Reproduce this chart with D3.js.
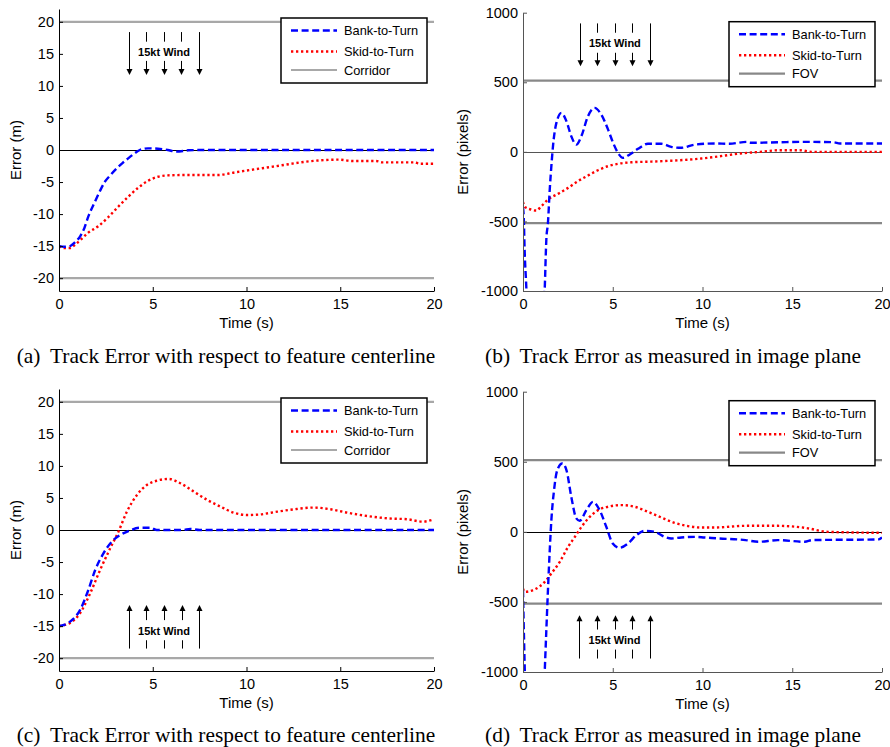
<!DOCTYPE html>
<html><head><meta charset="utf-8">
<script src="https://cdn.jsdelivr.net/npm/d3@7"></script>
<style>
html,body{margin:0;padding:0;background:#fff;}
</style>
</head><body>
<svg id="fig" width="890" height="747" font-family="'Liberation Sans',Arial,sans-serif"></svg>
<script>
// ---------------- data ----------------
const timeTicks = [0, 5, 10, 15, 20];
const meterTicks = [-20, -15, -10, -5, 0, 5, 10, 15, 20];
const pixelTicks = [-1000, -500, 0, 500, 1000];
const seriesNames = ["Bank-to-Turn", "Skid-to-Turn"];
const corridorLimit = 20;
const fovLimit = 512;
const windLabel = "15kt Wind";

const bttA = [[0,-15],[0.3,-15.1],[0.59,-15],[0.85,-14.4],[1.12,-13.5],[1.35,-12.2],[1.56,-10.4],[1.91,-8.1],[2.2,-6.3],[2.45,-4.95],[2.75,-3.9],[3.07,-2.9],[3.4,-2.0],[3.69,-1.3],[4.0,-0.6],[4.31,0],[4.75,0.26],[5.28,0.2],[5.8,0],[6.26,-0.26],[6.9,-0.05],[7.5,0],[20,0]];
const sttA = [[0,-15],[0.3,-15.3],[0.59,-15.3],[0.85,-14.8],[1.12,-14.1],[1.56,-12.9],[2.09,-11.9],[2.62,-10.5],[3.16,-8.85],[3.69,-7.3],[4.22,-5.9],[4.75,-4.8],[5.28,-4.17],[5.81,-3.96],[6.88,-3.9],[8.47,-3.9],[9.36,-3.5],[10.25,-3.1],[11.4,-2.6],[12.29,-2.2],[13.17,-1.82],[14.24,-1.56],[14.95,-1.5],[15.65,-1.72],[16.9,-1.72],[17.25,-1.93],[19.0,-1.93],[19.2,-2.14],[20,-2.14]];

const bttB = [[0,-400],[0.04,-463],[0.09,-703],[0.19,-990],[0.25,-1200],[1.15,-1200],[1.21,-990],[1.3,-630],[1.39,-511],[1.49,-271],[1.58,-103],[1.67,40],[1.86,208],[2.14,280],[2.42,220],[2.69,112],[2.97,52],[3.25,112],[3.62,256],[3.99,316],[4.36,268],[4.74,160],[5.02,65],[5.29,-7],[5.57,-43],[5.95,-19],[6.41,22],[6.96,58],[7.7,58],[8.26,36],[8.82,29],[9.57,52],[10.68,60],[11.5,58],[12.46,72],[12.65,65],[14.3,69],[15.8,72],[17.3,69],[17.66,60],[20,60]];
const sttB = [[0,-360],[0.1,-395],[0.46,-415],[0.74,-422],[1.02,-391],[1.39,-343],[1.95,-302],[2.51,-259],[3.06,-211],[3.62,-170],[4.18,-132],[4.74,-103],[5.29,-86],[6.03,-75],[7.15,-70],[8.08,-65],[9.0,-58],[9.93,-48],[10.7,-36],[12.1,-12],[13.2,0],[14.3,12],[15.4,12],[16.1,0],[20,0]];

const bttC = [[0,-15],[0.59,-14.3],[1.12,-12.5],[1.56,-9.4],[1.93,-6.25],[2.37,-3.65],[2.82,-1.82],[3.26,-0.78],[3.7,-0.16],[4.33,0.36],[4.87,0.36],[5.22,0],[6.6,0],[7.0,0.16],[7.5,0],[20,0]];
const sttC = [[0,-15],[0.59,-14.5],[1.12,-13],[1.66,-9.9],[2.19,-6.25],[2.73,-2.86],[3.17,-0.26],[3.62,2.86],[4.16,5.47],[4.69,7.03],[5.22,7.7],[5.84,7.97],[6.47,7.3],[7.18,6.0],[7.9,4.7],[8.61,3.65],[9.32,2.7],[10.04,2.34],[10.75,2.44],[11.64,2.86],[12.53,3.23],[13.6,3.5],[14.49,3.23],[15.38,2.7],[16.45,2.18],[17.52,1.82],[18.59,1.67],[19.4,1.3],[20,1.67]];

const bttD = [[0,-416],[0.03,-607],[0.09,-940],[0.15,-1200],[1.15,-1200],[1.21,-1000],[1.3,-702],[1.39,-416],[1.49,-131],[1.58,84],[1.73,298],[1.91,441],[2.19,488],[2.42,441],[2.69,250],[2.97,96],[3.16,79],[3.53,155],[3.9,214],[4.27,155],[4.64,36],[5.0,-83],[5.38,-114],[5.85,-83],[6.31,-24],[6.78,7],[7.34,0],[7.9,-36],[8.26,-47],[8.82,-40],[9.57,-36],[10.1,-40],[10.86,-47],[12.4,-59],[13.1,-71],[14.2,-59],[15.7,-71],[16.1,-59],[19.8,-54],[20,-40]];
const sttD = [[0,-405],[0.09,-428],[0.65,-411],[1.21,-357],[1.58,-297],[2.05,-214],[2.51,-107],[2.89,-36],[3.26,36],[3.72,107],[4.18,155],[4.74,179],[5.48,191],[6.22,179],[6.96,143],[7.7,103],[8.45,64],[9.19,41],[9.93,31],[10.68,31],[12.4,43],[14.2,43],[15.7,29],[17,0],[20,-7]];

// wind arrow times (s) per panel
const windTimesA = [3.74, 4.66, 5.58, 6.52, 7.46];
const windTimesB = [3.18, 4.14, 5.11, 6.09, 7.06];
const windTimesC = [3.71, 4.65, 5.60, 6.54, 7.49];
const windTimesD = [3.14, 4.12, 5.11, 6.07, 7.06];
// wind arrow vertical extent in data units: [tail, tip, text, shortTailEnd, shortTipStart]
const windLevelsA = [18.4, 11.7, 15.36, 16.9, 13.9];
const windLevelsB = [923, 616, 779, 856, 712];
const windLevelsC = [-18.5, -11.7, -15.7, -17.2, -14.06];
const windLevelsD = [-904, -595, -774, -840, -697];

const captions = [
  ["(a)", "Track Error with respect to feature centerline"],
  ["(b)", "Track Error as measured in image plane"],
  ["(c)", "Track Error with respect to feature centerline"],
  ["(d)", "Track Error as measured in image plane"]
];

// ---------------- layout ----------------
const panels = [
  {id:"a", box:[59,434,9,291],   ydom:[-22,22],    yt:meterTicks, ylabel:"Error (m)",      ylx:15,  btt:bttA, stt:sttA, lim:corridorLimit, limName:"Corridor", limColor:"#a8a8a8", axisColor:"#000", zeroColor:"#000", wind:windTimesA, wl:windLevelsA, cap:captions[0], capX:226, capY:362.5},
  {id:"b", box:[523,882,12.7,291], ydom:[-1000,1000], yt:pixelTicks, ylabel:"Error (pixels)", ylx:462, btt:bttB, stt:sttB, lim:fovLimit, limName:"FOV", limColor:"#888888", axisColor:"#555", zeroColor:"#555", wind:windTimesB, wl:windLevelsB, cap:captions[1], capX:673, capY:362.5},
  {id:"c", box:[59,434,389,671], ydom:[-22,22],    yt:meterTicks, ylabel:"Error (m)",      ylx:15,  btt:bttC, stt:sttC, lim:corridorLimit, limName:"Corridor", limColor:"#a8a8a8", axisColor:"#000", zeroColor:"#000", wind:windTimesC, wl:windLevelsC, cap:captions[2], capX:226, capY:741.5},
  {id:"d", box:[523,882,391.7,672], ydom:[-1000,1000], yt:pixelTicks, ylabel:"Error (pixels)", ylx:462, btt:bttD, stt:sttD, lim:fovLimit, limName:"FOV", limColor:"#888888", axisColor:"#555", zeroColor:"#000", wind:windTimesD, wl:windLevelsD, cap:captions[3], capX:673, capY:741.5}
];

const svg = d3.select("#fig");
const BLUE = "#0000ff", RED = "#ff0000";
const blueDash = "7,3.6", redDash = "2.3,2.7";
const SANS = "'Liberation Sans',Arial,sans-serif";
const SERIF = "'Liberation Serif','Times New Roman',serif";

svg.append("defs");

panels.forEach(p => {
  const [x0,x1,y0,y1] = p.box;
  const x = d3.scaleLinear().domain([0,20]).range([x0,x1]);
  const y = d3.scaleLinear().domain(p.ydom).range([y1,y0]);
  const g = svg.append("g");

  svg.select("defs").append("clipPath").attr("id","clip-"+p.id)
    .append("rect").attr("x",x0).attr("y",y0).attr("width",x1-x0).attr("height",y1-y0);

  // limit lines
  [p.lim, -p.lim].forEach(v => {
    g.append("line").attr("x1",x0).attr("x2",x1).attr("y1",y(v)).attr("y2",y(v))
      .attr("stroke",p.limColor).attr("stroke-width",2.2);
  });
  // zero line
  const zy = Math.round(y(0)) + 0.5;
  g.append("line").attr("x1",x0).attr("x2",x1).attr("y1",zy).attr("y2",zy)
    .attr("stroke",p.zeroColor).attr("stroke-width",1);

  const line = d3.line().x(d=>x(d[0])).y(d=>y(d[1])).curve(d3.curveMonotoneX);
  const cg = g.append("g").attr("clip-path","url(#clip-"+p.id+")");
  cg.append("path").attr("d",line(p.stt)).attr("fill","none").attr("stroke",RED)
    .attr("stroke-width",2.4).attr("stroke-dasharray",redDash);
  cg.append("path").attr("d",line(p.btt)).attr("fill","none").attr("stroke",BLUE)
    .attr("stroke-width",2.4).attr("stroke-dasharray",blueDash);

  // wind arrows
  const [tail, tip, txt, shortTail, shortTip] = p.wl;
  const up = tip > tail;
  const wg = g.append("g");
  p.wind.forEach((t,i) => {
    const xx = Math.round(x(t)) + 0.5;
    const long = (i===0 || i===p.wind.length-1);
    const tipY = y(tip);
    const dir = up ? 1 : -1;
    if (long) {
      wg.append("line").attr("x1",xx).attr("x2",xx).attr("y1",y(tail)).attr("y2",tipY + dir*4)
        .attr("stroke","#000").attr("stroke-width",1);
    } else {
      wg.append("line").attr("x1",xx).attr("x2",xx).attr("y1",y(tail)).attr("y2",y(shortTail))
        .attr("stroke","#000").attr("stroke-width",1);
      wg.append("line").attr("x1",xx).attr("x2",xx).attr("y1",y(shortTip)).attr("y2",tipY + dir*4)
        .attr("stroke","#000").attr("stroke-width",1);
    }
    wg.append("path")
      .attr("d", `M${xx},${tipY} L${xx-3},${tipY+dir*6} L${xx+3},${tipY+dir*6} Z`)
      .attr("fill","#000");
  });
  wg.append("text").attr("x", (x(p.wind[0])+x(p.wind[p.wind.length-1]))/2).attr("y", y(txt))
    .attr("text-anchor","middle").attr("dominant-baseline","central")
    .style("font-family",SANS).attr("font-size",11).attr("font-weight","bold").text(windLabel);

  // axes
  const ya = d3.axisLeft(y).tickValues(p.yt).tickSizeInner(-4).tickSizeOuter(0).tickPadding(5)
    .tickFormat(d=>String(d));
  const xa = d3.axisBottom(x).tickValues(timeTicks).tickSizeInner(-4).tickSizeOuter(0).tickPadding(8)
    .tickFormat(d=>String(d));
  const yg = g.append("g").attr("transform",`translate(${x0},0)`).call(ya);
  const xg = g.append("g").attr("transform",`translate(0,${y1})`).call(xa);
  [yg,xg].forEach(a => {
    a.attr("font-family",null).attr("font-size",null);
    a.select(".domain").attr("stroke",p.axisColor).attr("stroke-width",1);
    a.selectAll(".tick line").attr("stroke",p.axisColor);
    a.selectAll("text").style("font-family",SANS).style("font-size","14.5px").attr("fill","#000");
  });
  xg.selectAll("text").attr("dy","0.71em");

  g.append("text").attr("x",(x0+x1)/2).attr("y",y1+37).attr("text-anchor","middle")
    .style("font-family",SANS).attr("font-size",15).text("Time (s)");
  g.append("text").attr("transform",`translate(${p.ylx},${(y0+y1)/2}) rotate(-90)`)
    .attr("text-anchor","middle").attr("dominant-baseline","central")
    .style("font-family",SANS).attr("font-size",15).text(p.ylabel);

  // legend
  const lw = 146, lh = 65;
  const lx = x1 - 7 - lw, ly = y0 + 9;
  const lg = g.append("g").attr("transform",`translate(${lx},${ly})`);
  lg.append("rect").attr("width",lw).attr("height",lh).attr("fill","#fff")
    .attr("stroke","#000").attr("stroke-width",1.5);
  const items = [
    {name:seriesNames[0], color:BLUE, dash:blueDash, w:2.4},
    {name:seriesNames[1], color:RED, dash:redDash, w:2.4},
    {name:p.limName, color:p.limColor, dash:null, w:2.2}
  ];
  const rowY = [12.5, 33.5, 52];
  items.forEach((it,i) => {
    lg.append("line").attr("x1",10).attr("x2",56).attr("y1",rowY[i]).attr("y2",rowY[i])
      .attr("stroke",it.color).attr("stroke-width",it.w).attr("stroke-dasharray",it.dash);
    lg.append("text").attr("x",63).attr("y",rowY[i]).attr("dominant-baseline","central")
      .style("font-family",SANS).attr("font-size",12.8).text(it.name);
  });

  // caption
  const ct = svg.append("text").attr("x",p.capX).attr("y",p.capY).attr("text-anchor","middle")
    .style("font-family",SERIF).attr("font-size",21.4);
  ct.append("tspan").text(p.cap[0]);
  ct.append("tspan").attr("dx",9.5).text(p.cap[1]);
});
</script>
</body></html>
